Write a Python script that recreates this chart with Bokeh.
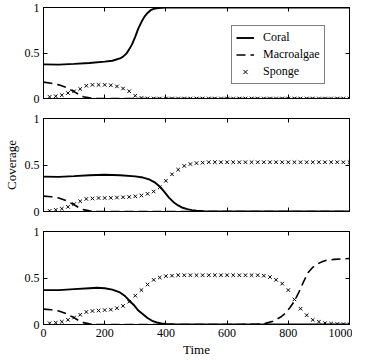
from bokeh.plotting import figure
from bokeh.models import LinearAxis, FixedTicker, Legend, LegendItem, Range1d, CustomLabelingPolicy
from bokeh.layouts import column
from bokeh.embed import file_html
from bokeh.resources import INLINE

FONT = "Liberation Serif"

# ---------------- data ----------------
x_ticks = [0, 200, 400, 600, 800, 1000]
y_ticks = [0, 0.5, 1]
y_tick_labels = {0: "0", 0.5: "0.5", 1: "1"}

sponge_t = list(range(20, 1001, 20))

# panel 1
coral1_t = [0, 50, 100, 150, 200, 225, 250, 260, 270, 280, 290, 300, 310, 320, 330, 340, 350, 360, 375, 400,
            500, 600, 700, 800, 900, 1000]
coral1_v = [0.375, 0.372, 0.38, 0.39, 0.405, 0.415, 0.44, 0.46, 0.49, 0.54, 0.60, 0.68, 0.77, 0.84, 0.90, 0.94,
            0.97, 0.985, 0.995, 1.0, 1.0, 1.0, 1.0, 1.0, 1.0, 1.0]
macro1_t = [0, 25, 50, 75, 100, 115, 130, 150, 175, 200, 400, 600, 800, 1000]
macro1_v = [0.18, 0.168, 0.15, 0.12, 0.075, 0.045, 0.02, 0.007, 0.002, 0.0, 0.0, 0.0, 0.0, 0.0]
sponge1_v = [0.018, 0.025, 0.036, 0.06, 0.08, 0.105, 0.14, 0.15, 0.15, 0.15, 0.145, 0.133, 0.11, 0.08, 0.03,
             0.006, 0.002] + [0.0] * 33

# panel 2
coral2_t = [0, 50, 100, 150, 200, 250, 300, 325, 345, 365, 380, 395, 410, 425, 440, 455, 470, 485, 500, 525,
            550, 600, 700, 800, 900, 1000]
coral2_v = [0.375, 0.372, 0.38, 0.39, 0.395, 0.39, 0.378, 0.365, 0.345, 0.31, 0.27, 0.21, 0.15, 0.10, 0.065,
            0.04, 0.025, 0.015, 0.008, 0.003, 0.001, 0.0, 0.0, 0.0, 0.0, 0.0]
macro2_t = [0, 25, 50, 75, 100, 115, 130, 150, 175, 200, 400, 600, 800, 1000]
macro2_v = [0.165, 0.158, 0.145, 0.115, 0.072, 0.043, 0.02, 0.007, 0.002, 0.0, 0.0, 0.0, 0.0, 0.0]
sponge2_v = [0.007, 0.018, 0.03, 0.05, 0.08, 0.11, 0.135, 0.14, 0.145, 0.145, 0.147, 0.15, 0.153, 0.157,
             0.163, 0.172, 0.19, 0.215, 0.26, 0.33, 0.40, 0.45, 0.49, 0.51, 0.52, 0.525] + [0.53] * 24

# panel 3
coral3_t = [0, 50, 100, 150, 175, 200, 225, 250, 265, 280, 295, 310, 325, 340, 355, 370, 385, 400, 425, 450,
            600, 800, 1000]
coral3_v = [0.37, 0.37, 0.38, 0.39, 0.395, 0.39, 0.375, 0.345, 0.31, 0.26, 0.21, 0.15, 0.11, 0.07, 0.04,
            0.022, 0.012, 0.006, 0.002, 0.0, 0.0, 0.0, 0.0]
macro3_t = [0, 25, 50, 75, 100, 115, 130, 150, 175, 200, 400, 600, 650, 700, 725, 750, 775, 790, 805, 820,
            835, 850, 865, 880, 895, 910, 925, 950, 975, 1000]
macro3_v = [0.165, 0.158, 0.145, 0.115, 0.072, 0.043, 0.02, 0.007, 0.002, 0.0, 0.0, 0.0, 0.001, 0.004, 0.012,
            0.035, 0.08, 0.12, 0.18, 0.25, 0.35, 0.46, 0.56, 0.615, 0.65, 0.675, 0.69, 0.70, 0.705, 0.71]
sponge3_v = [0.014, 0.02, 0.03, 0.05, 0.075, 0.105, 0.135, 0.145, 0.15, 0.155, 0.16, 0.175, 0.2, 0.245, 0.31,
             0.37, 0.43, 0.48, 0.505, 0.52, 0.525] + [0.53] * 14 + \
            [0.525, 0.51, 0.48, 0.44, 0.37, 0.27, 0.17, 0.10, 0.05, 0.03, 0.015, 0.01, 0.006, 0.004, 0.003]


def no_labels():
    return CustomLabelingPolicy(code="return []")


def make_panel(coral_t, coral_v, macro_t, macro_v, sponge_v, top, fh, bottom, show_x,
               ylabel=None, legend=False):
    p = figure(frame_width=306, frame_height=fh,
               x_range=Range1d(0, 1000), y_range=Range1d(0, 1),
               output_backend="svg", toolbar_location=None,
               min_border_left=34, min_border_right=12,
               min_border_top=top, min_border_bottom=bottom)
    p.xgrid.visible = False
    p.ygrid.visible = False
    p.outline_line_color = "black"
    p.outline_line_width = 1
    p.background_fill_color = "white"
    p.border_fill_color = "white"

    xa = p.xaxis[0]
    xa.ticker = FixedTicker(ticks=x_ticks)
    xa.major_tick_in = 4
    xa.major_tick_out = 0
    xa.minor_tick_line_color = None
    xa.axis_line_color = "black"
    xa.major_label_text_font = FONT
    xa.major_label_text_color = "black"
    if show_x:
        xa.major_label_text_font_size = "12px"
        xa.major_label_standoff = 4
        xa.axis_label = "Time"
        xa.axis_label_text_font = FONT
        xa.axis_label_text_font_size = "13px"
        xa.axis_label_text_font_style = "normal"
        xa.axis_label_text_color = "black"
        xa.axis_label_standoff = 2
    else:
        xa.major_label_text_font_size = "0px"
        xa.major_label_standoff = 0
        xa.major_label_policy = no_labels()

    ya = p.yaxis[0]
    ya.ticker = FixedTicker(ticks=y_ticks)
    ya.major_label_overrides = y_tick_labels
    ya.major_tick_in = 4
    ya.major_tick_out = 0
    ya.minor_tick_line_color = None
    ya.major_label_text_font = FONT
    ya.major_label_text_font_size = "12px"
    ya.major_label_text_color = "black"
    ya.major_label_standoff = 4
    if ylabel:
        ya.axis_label = ylabel
        ya.axis_label_text_font = FONT
        ya.axis_label_text_font_size = "13px"
        ya.axis_label_text_font_style = "normal"
        ya.axis_label_text_color = "black"
        ya.axis_label_standoff = 3

    top_ax = LinearAxis(ticker=FixedTicker(ticks=x_ticks), major_tick_in=4, major_tick_out=0,
                        minor_tick_line_color=None, major_label_text_font_size="0px",
                        major_label_standoff=0, major_label_policy=no_labels())
    right_ax = LinearAxis(ticker=FixedTicker(ticks=y_ticks), major_tick_in=4, major_tick_out=0,
                          minor_tick_line_color=None, major_label_text_font_size="0px",
                          major_label_standoff=0, major_label_policy=no_labels())
    p.add_layout(top_ax, "above")
    p.add_layout(right_ax, "right")

    rc = p.line(coral_t, coral_v, line_color="black", line_width=1.9)
    rm = p.line(macro_t, macro_v, line_color="black", line_width=1.6, line_dash="9 5")
    rs = p.scatter(sponge_t, sponge_v, marker="x", size=5, line_color="black", line_width=1)

    if legend:
        lg = Legend(items=[LegendItem(label="Coral", renderers=[rc]),
                           LegendItem(label="Macroalgae", renderers=[rm]),
                           LegendItem(label="Sponge", renderers=[rs])],
                    location=(188, 14), label_text_font=FONT, label_text_font_size="12px",
                    label_text_color="black",
                    glyph_width=18, glyph_height=15, label_height=15, spacing=2, padding=4,
                    margin=0, label_standoff=9, border_line_color="black", border_line_width=1,
                    background_fill_alpha=1)
        p.add_layout(lg, "center")
    return p


p1 = make_panel(coral1_t, coral1_v, macro1_t, macro1_v, sponge1_v, 7, 91, 10, False, legend=True)
p2 = make_panel(coral2_t, coral2_v, macro2_t, macro2_v, sponge2_v, 10, 93, 10, False, ylabel="Coverage")
p3 = make_panel(coral3_t, coral3_v, macro3_t, macro3_v, sponge3_v, 10, 93, 28, True)

layout = column(p1, p2, p3, spacing=0)

open("out.html", "w").write(file_html(layout, INLINE))
